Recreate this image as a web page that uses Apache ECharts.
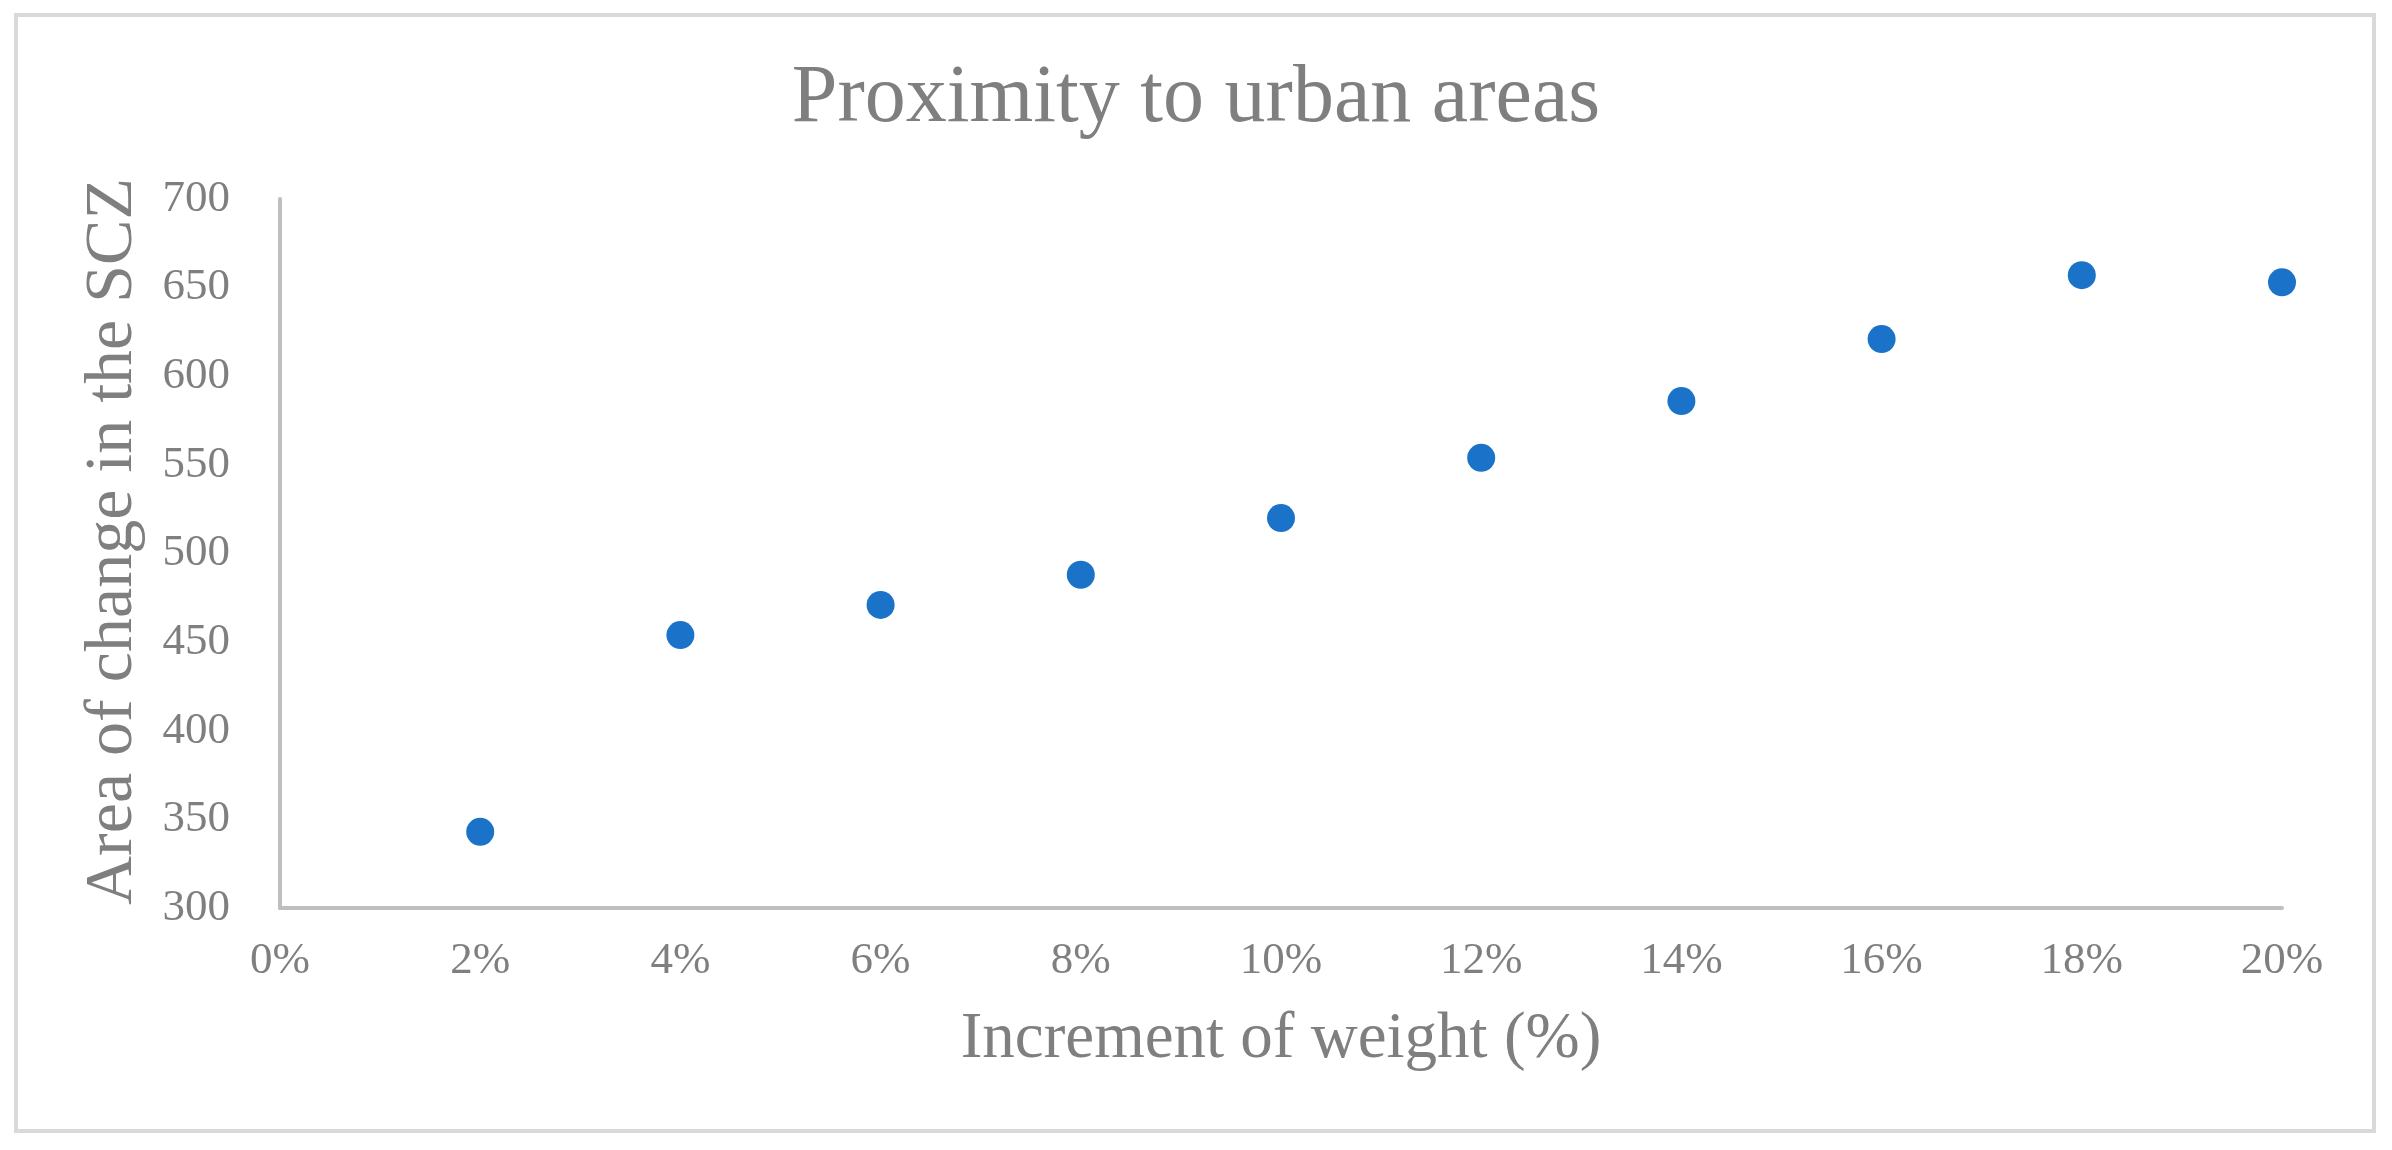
<!DOCTYPE html>
<html>
<head>
<meta charset="utf-8">
<style>
html,body{margin:0;padding:0;background:#fff;}
#chart{width:2392px;height:1150px;}
</style>
<script src="https://cdn.jsdelivr.net/npm/echarts@6/dist/echarts.min.js"></script>
</head>
<body>
<div id="chart"></div>
<script>
const chartTitle = 'Proximity to urban areas';
const xAxisTitle = 'Increment of weight (%)';
const yAxisTitle = 'Area of change in the SCZ';
const weightIncrement = [2, 4, 6, 8, 10, 12, 14, 16, 18, 20];
const areaOfChange = [343, 454, 471, 488, 520, 554, 586, 621, 657, 653];

const points = weightIncrement.map((x, i) => [x, areaOfChange[i]]);
const gray = '#7f7f7f';
const font = '"Liberation Serif", "Times New Roman", serif';

const chart = echarts.init(document.getElementById('chart'));
chart.setOption({
  backgroundColor: '#fff',
  animation: false,
  title: {
    text: chartTitle,
    left: 'center',
    top: 53,
    textStyle: { fontFamily: font, fontSize: 82, fontWeight: 'normal', color: gray }
  },
  graphic: [{
    type: 'rect',
    shape: { x: 16, y: 15, width: 2358, height: 1116 },
    style: { fill: 'none', stroke: '#d9d9d9', lineWidth: 4 },
    silent: true
  }],
  grid: { left: 280, right: 110, top: 199, bottom: 242, containLabel: false },
  xAxis: {
    type: 'value',
    min: 0, max: 20, interval: 2,
    name: xAxisTitle,
    nameLocation: 'middle',
    nameGap: 99,
    nameTextStyle: { fontFamily: font, fontSize: 65, color: gray },
    axisLine: { show: true, lineStyle: { color: '#bfbfbf', width: 4 } },
    axisTick: { show: false },
    splitLine: { show: false },
    axisLabel: { formatter: '{value}%', fontFamily: font, fontSize: 45, color: gray, margin: 31 }
  },
  yAxis: {
    type: 'value',
    min: 300, max: 700, interval: 50,
    name: yAxisTitle,
    nameLocation: 'middle',
    nameGap: 133,
    nameRotate: 90,
    nameTextStyle: { fontFamily: font, fontSize: 68, color: gray, padding: [0, 0, 0, 24] },
    axisLine: { show: true, lineStyle: { color: '#bfbfbf', width: 4 } },
    axisTick: { show: false },
    splitLine: { show: false },
    axisLabel: { fontFamily: font, fontSize: 45, color: gray, margin: 50 }
  },
  series: [{
    type: 'scatter',
    data: points,
    symbol: 'circle',
    symbolSize: 28,
    itemStyle: { color: '#1a73c8', opacity: 1 }
  }]
});
</script>
</body>
</html>
